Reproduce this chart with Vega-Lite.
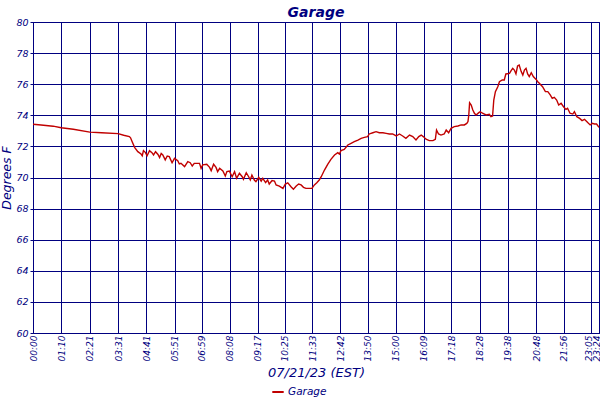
{
  "$schema": "https://vega.github.io/schema/vega-lite/v6.json",
  "autosize": "none",
  "width": 566,
  "height": 311,
  "padding": {"left": 33, "top": 22, "right": 1, "bottom": 67},
  "background": "white",
  "title": {"text": "Garage", "font": "DejaVu Sans", "fontStyle": "italic", "fontWeight": "bold", "fontSize": 14, "color": "#000080", "offset": 5, "dy": 8, "anchor": "middle"},
  "config": {
    "view": {"stroke": "#000080", "strokeWidth": 1},
    "axis": {"domainColor": "#000080", "gridColor": "#000080", "gridOpacity": 1, "gridWidth": 1, "tickColor": "#000080", "labelColor": "#000080", "titleColor": "#000080", "labelFont": "DejaVu Sans", "titleFont": "DejaVu Sans", "labelFontStyle": "italic", "titleFontStyle": "italic", "titleFontWeight": "normal"}
  },
  "data": {"values": [
    {"m":0,"t":73.42},{"m":20,"t":73.38},{"m":50,"t":73.30},{"m":70,"t":73.20},{"m":100,"t":73.10},{"m":141,"t":72.92},{"m":170,"t":72.88},{"m":211,"t":72.82},{"m":225,"t":72.72},{"m":239,"t":72.63},
    {"m":242,"t":72.55},{"m":246,"t":72.30},{"m":252,"t":71.94},{"m":260,"t":71.66},{"m":268,"t":71.51},{"m":271,"t":71.40},{"m":274,"t":71.73},{"m":279,"t":71.60},{"m":283,"t":71.40},{"m":289,"t":71.73},
    {"m":295,"t":71.60},{"m":299,"t":71.45},{"m":304,"t":71.66},{"m":310,"t":71.48},{"m":314,"t":71.28},{"m":318,"t":71.55},{"m":322,"t":71.45},{"m":328,"t":71.13},{"m":333,"t":71.38},{"m":338,"t":71.34},
    {"m":345,"t":70.95},{"m":351,"t":71.23},{"m":359,"t":71.08},{"m":363,"t":70.87},{"m":367,"t":70.91},{"m":376,"t":70.70},{"m":384,"t":71.02},{"m":390,"t":70.95},{"m":395,"t":70.74},{"m":400,"t":70.91},
    {"m":413,"t":70.91},{"m":417,"t":70.59},{"m":421,"t":70.81},{"m":431,"t":70.85},{"m":438,"t":70.65},{"m":442,"t":70.44},{"m":448,"t":70.85},{"m":454,"t":70.65},{"m":458,"t":70.38},{"m":463,"t":70.59},
    {"m":471,"t":70.42},{"m":477,"t":70.10},{"m":481,"t":70.38},{"m":487,"t":70.42},{"m":494,"t":70.05},{"m":500,"t":70.38},{"m":505,"t":69.95},{"m":512,"t":70.27},{"m":519,"t":70.05},{"m":522,"t":69.88},
    {"m":529,"t":70.31},{"m":535,"t":70.05},{"m":539,"t":69.84},{"m":543,"t":70.16},{"m":549,"t":69.84},{"m":553,"t":69.73},{"m":560,"t":70.01},{"m":566,"t":69.77},{"m":570,"t":69.95},{"m":577,"t":69.67},
    {"m":582,"t":69.84},{"m":586,"t":69.58},{"m":593,"t":69.80},{"m":599,"t":69.77},{"m":603,"t":69.52},{"m":611,"t":69.45},{"m":620,"t":69.30},{"m":626,"t":69.58},{"m":632,"t":69.66},{"m":640,"t":69.41},
    {"m":646,"t":69.24},{"m":653,"t":69.45},{"m":659,"t":69.58},{"m":665,"t":69.52},{"m":671,"t":69.37},{"m":677,"t":69.30},{"m":686,"t":69.30},{"m":692,"t":69.30},{"m":698,"t":69.52},{"m":704,"t":69.66},
    {"m":710,"t":69.84},{"m":715,"t":70.05},{"m":723,"t":70.48},{"m":731,"t":70.85},{"m":739,"t":71.17},{"m":748,"t":71.45},{"m":756,"t":71.60},{"m":760,"t":71.51},{"m":764,"t":71.73},{"m":772,"t":71.81},
    {"m":781,"t":72.09},{"m":789,"t":72.20},{"m":797,"t":72.30},{"m":806,"t":72.41},{"m":814,"t":72.52},{"m":822,"t":72.58},{"m":830,"t":72.63},{"m":834,"t":72.80},{"m":843,"t":72.88},{"m":851,"t":72.95},
    {"m":859,"t":72.88},{"m":868,"t":72.88},{"m":876,"t":72.84},{"m":884,"t":72.80},{"m":892,"t":72.80},{"m":901,"t":72.67},{"m":909,"t":72.80},{"m":917,"t":72.67},{"m":925,"t":72.52},{"m":934,"t":72.73},
    {"m":942,"t":72.63},{"m":950,"t":72.41},{"m":957,"t":72.63},{"m":963,"t":72.73},{"m":968,"t":72.63},{"m":975,"t":72.46},{"m":983,"t":72.37},{"m":992,"t":72.37},{"m":998,"t":72.46},{"m":1001,"t":73.05},
    {"m":1006,"t":72.80},{"m":1012,"t":72.73},{"m":1020,"t":72.80},{"m":1025,"t":73.05},{"m":1031,"t":72.88},{"m":1037,"t":73.16},{"m":1045,"t":73.27},{"m":1054,"t":73.31},{"m":1062,"t":73.38},{"m":1070,"t":73.38},
    {"m":1076,"t":73.48},{"m":1079,"t":73.60},{"m":1081,"t":74.02},{"m":1083,"t":74.81},{"m":1087,"t":74.66},{"m":1091,"t":74.34},{"m":1095,"t":74.13},{"m":1099,"t":74.02},{"m":1106,"t":74.17},{"m":1109,"t":74.23},
    {"m":1116,"t":74.13},{"m":1124,"t":74.02},{"m":1132,"t":74.06},{"m":1136,"t":73.91},{"m":1140,"t":73.95},{"m":1143,"t":74.98},{"m":1147,"t":75.52},{"m":1153,"t":75.84},{"m":1157,"t":76.16},{"m":1164,"t":76.27},
    {"m":1169,"t":76.27},{"m":1173,"t":76.66},{"m":1182,"t":76.70},{"m":1186,"t":76.87},{"m":1190,"t":77.02},{"m":1194,"t":76.91},{"m":1198,"t":76.66},{"m":1202,"t":77.17},{"m":1206,"t":77.23},{"m":1211,"t":76.81},
    {"m":1215,"t":76.59},{"m":1219,"t":76.91},{"m":1223,"t":77.02},{"m":1227,"t":76.66},{"m":1231,"t":76.49},{"m":1236,"t":76.74},{"m":1241,"t":76.49},{"m":1248,"t":76.31},{"m":1252,"t":76.16},{"m":1256,"t":76.06},
    {"m":1264,"t":75.84},{"m":1271,"t":75.52},{"m":1277,"t":75.52},{"m":1283,"t":75.31},{"m":1288,"t":75.09},{"m":1293,"t":75.16},{"m":1299,"t":74.98},{"m":1304,"t":74.66},{"m":1310,"t":74.77},{"m":1316,"t":74.55},
    {"m":1322,"t":74.38},{"m":1326,"t":74.45},{"m":1332,"t":74.13},{"m":1339,"t":74.08},{"m":1343,"t":74.23},{"m":1349,"t":73.91},{"m":1356,"t":73.80},{"m":1362,"t":73.66},{"m":1368,"t":73.74},{"m":1376,"t":73.53},
    {"m":1382,"t":73.38},{"m":1387,"t":73.48},{"m":1393,"t":73.44},{"m":1398,"t":73.44},{"m":1404,"t":73.22}
  ]},
  "transform": [{"calculate": "'Garage'", "as": "series"}],
  "mark": {"type": "line", "strokeWidth": 1.4, "interpolate": "linear"},
  "encoding": {
    "x": {"field": "m", "type": "quantitative",
      "scale": {"domain": [0, 1404], "nice": false, "zero": false},
      "axis": {"title": "07/21/23 (EST)", "titleFontSize": 13, "titlePadding": 6,
        "values": [0,70,141,211,281,351,419,488,557,625,693,762,830,900,969,1038,1108,1178,1248,1316,1385,1404],
        "labelExpr": "(floor(datum.value/60) < 10 ? '0' : '') + floor(datum.value/60) + ':' + (datum.value % 60 < 10 ? '0' : '') + (datum.value % 60)",
        "labelAngle": 270, "labelFontSize": 9, "labelPadding": 2, "labelOverlap": false, "labelBound": false, "labelFlush": false,
        "labelOffset": {"condition": {"test": "datum.value >= 1385", "value": -3}, "value": 0},
        "tickSize": 0, "grid": true}},
    "y": {"field": "t", "type": "quantitative",
      "scale": {"domain": [60, 80], "nice": false, "zero": false},
      "axis": {"title": "Degrees F", "titleFontSize": 12.5, "titlePadding": 2, "values": [60,62,64,66,68,70,72,74,76,78,80],
        "labelFontSize": 9.5, "labelPadding": 2, "tickSize": 3, "grid": true, "labelFlush": false}},
    "color": {"field": "series", "type": "nominal",
      "scale": {"range": ["#c00000"]},
      "legend": {"title": null, "orient": "none", "legendX": 238, "legendY": 363, "direction": "horizontal",
        "symbolType": "stroke", "symbolSize": 130, "symbolStrokeWidth": 2, "labelFont": "DejaVu Sans", "labelFontStyle": "italic",
        "labelFontSize": 10.5, "labelColor": "#000080", "labelOffset": 3}}
  }
}
